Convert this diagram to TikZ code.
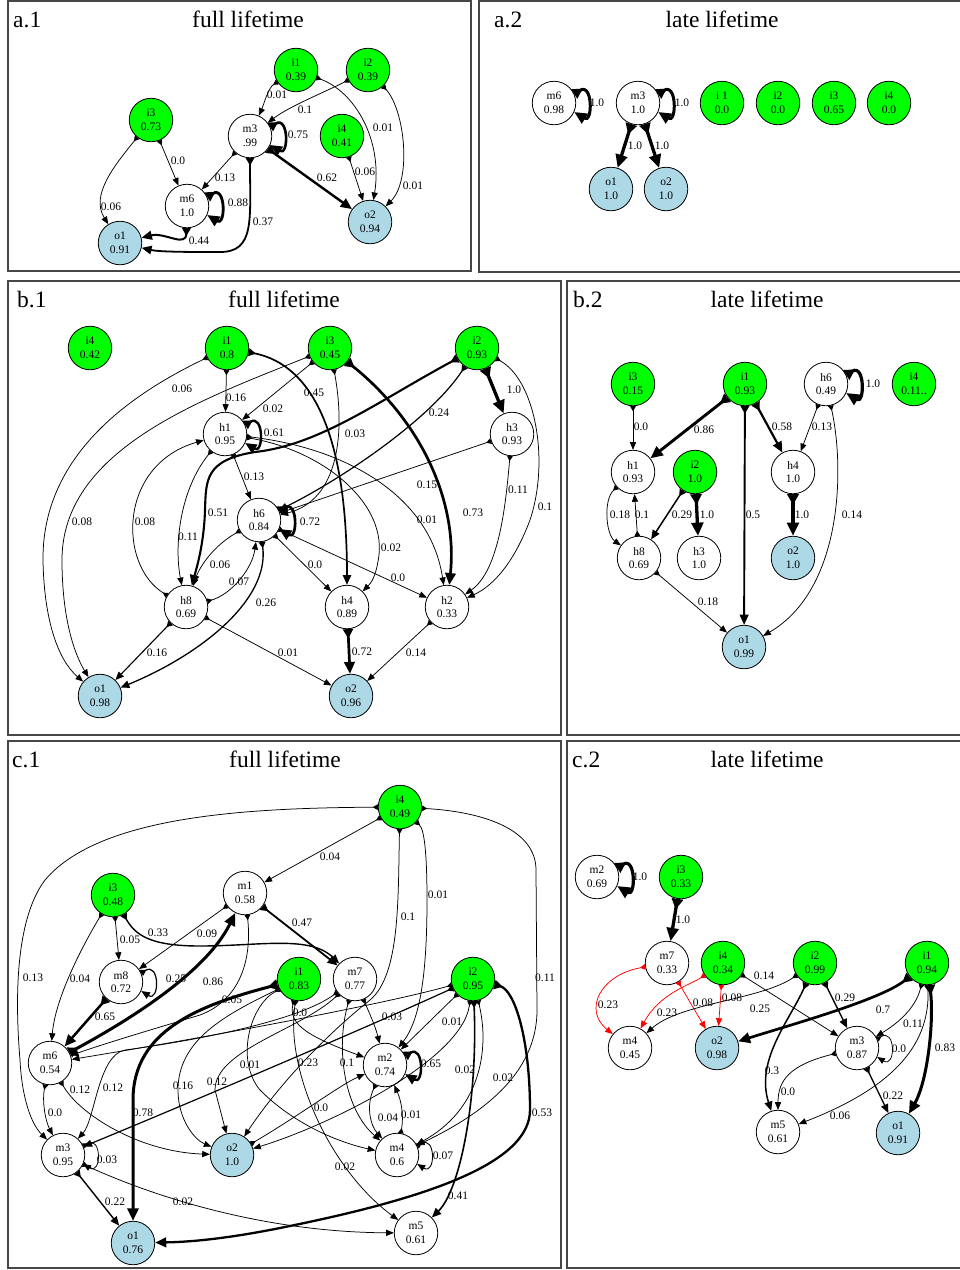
\documentclass[tikz,border=0pt]{standalone}
\usepackage{fontspec}
\setmainfont{Liberation Serif}
\usetikzlibrary{arrows.meta}
\definecolor{ingreen}{RGB}{0,255,0}
\definecolor{outblue}{RGB}{173,216,230}
\definecolor{framegray}{RGB}{70,70,70}
\newcommand\elab[3]{\node[lab] (#1) at (#2) {#3};}
\newcommand\sloop[2]{\draw[e,line width=#2] (#1.24) .. controls +(-32:22) and +(32:22) .. (#1.-24);}
\begin{document}
\begin{tikzpicture}[x=1pt,y=-1pt,
  nd/.style={circle, draw=black, line width=0.8pt, minimum size=43.5pt, inner sep=0pt, align=center, font=\fontsize{11.5}{13.5}\selectfont},
  inp/.style={nd, fill=ingreen},
  outp/.style={nd, fill=outblue},
  hid/.style={nd, fill=white},
  lab/.style={font=\fontsize{11.5}{13.5}\selectfont, inner sep=0pt},
  e/.style={{Triangle[reversed,length=3.5pt 2.2,width=4pt 2.2]}-{Triangle[length=6pt 2.2,width=4.5pt 2.2]}, line width=0.75pt},
  ttl/.style={font=\fontsize{23.5}{28}\selectfont, anchor=base, inner sep=0pt},
  panel/.style={draw=framegray, line width=1.3pt}]
\fill[white] (0,0) rectangle (960,1270);
\useasboundingbox (0,0) rectangle (960,1270);
% panels
\draw[panel] (8,1) rectangle (471,271);
\draw[panel] (479,1) rectangle (966,272);
\draw[panel] (8,281) rectangle (561,735);
\draw[panel] (567,281) rectangle (966,735);
\draw[panel] (8,741) rectangle (561,1268);
\draw[panel] (567,741) rectangle (966,1268);
% titles
\node[ttl, anchor=base west] (a1t) at (13,27) {a.1};
\node[ttl] (a1T) at (248,27) {full lifetime};
\node[ttl, anchor=base west] (a2t) at (494,27) {a.2};
\node[ttl] (a2T) at (722,27) {late lifetime};
\node[ttl, anchor=base west] (b1t) at (17,307) {b.1};
\node[ttl] (b1T) at (284,307) {full lifetime};
\node[ttl, anchor=base west] (b2t) at (573,307) {b.2};
\node[ttl] (b2T) at (767,307) {late lifetime};
\node[ttl, anchor=base west] (c1t) at (12,767) {c.1};
\node[ttl] (c1T) at (285,767) {full lifetime};
\node[ttl, anchor=base west] (c2t) at (572,767) {c.2};
\node[ttl] (c2T) at (767,767) {late lifetime};

% ================= a.1
\node[inp] (a1i1) at (296,70) {i1\\0.39};
\node[inp] (a1i2) at (368,70) {i2\\0.39};
\node[inp] (a1i3) at (151,120) {i3\\0.73};
\node[inp] (a1i4) at (342,136) {i4\\0.41};
\node[hid] (a1m3) at (250,136) {m3\\.99};
\node[hid] (a1m6) at (187,206) {m6\\1.0};
\node[outp] (a1o1) at (120,243) {o1\\0.91};
\node[outp] (a1o2) at (370,222) {o2\\0.94};
\draw[e] (a1i3) -- (a1m6);
\draw[e] (a1i3) .. controls (115,165) and (90,195) .. (a1o1);
\draw[e] (a1i1) .. controls (268,88) and (264,104) .. (a1m3);
\draw[e] (a1i2) .. controls (325,92) and (290,106) .. (a1m3);
\draw[e] (a1i1) .. controls (355,92) and (383,140) .. (a1o2);
\draw[e] (a1i2) .. controls (405,110) and (412,180) .. (a1o2);
\draw[e] (a1i4) -- (a1o2);
\draw[e, line width=2.4pt] (a1m3) -- (a1o2);
\draw[e] (a1m3) -- (a1m6);
\sloop{a1m3}{2.6pt}
\sloop{a1m6}{2.8pt}
\draw[e, line width=2pt] (a1m6) .. controls (186,248) and (165,232) .. (a1o1);
\draw[e, line width=1.8pt] (a1m3) .. controls (250,220) and (255,252) .. (220,252) .. controls (190,252) and (160,252) .. (a1o1);
\elab{a1l1}{277,95}{0.01}
\elab{a1l2}{305,110}{0.1}
\elab{a1l3}{383,128}{0.01}
\elab{a1l4}{298,135}{0.75}
\elab{a1l5}{178,161}{0.0}
\elab{a1l6}{225,178}{0.13}
\elab{a1l7}{327,178}{0.62}
\elab{a1l8}{365,172}{0.06}
\elab{a1l9}{413,186}{0.01}
\elab{a1l10}{111,207}{0.06}
\elab{a1l11}{238,203}{0.88}
\elab{a1l12}{263,222}{0.37}
\elab{a1l13}{199,241}{0.44}

% ================= a.2
\node[hid] (a2m6) at (554,103) {m6\\0.98};
\node[hid] (a2m3) at (638,103) {m3\\1.0};
\node[inp] (a2i1) at (722,103) {i 1\\0.0};
\node[inp] (a2i2) at (778,103) {i2\\0.0};
\node[inp] (a2i3) at (834,103) {i3\\0.65};
\node[inp] (a2i4) at (889,103) {i4\\0.0};
\node[outp] (a2o1) at (611,189) {o1\\1.0};
\node[outp] (a2o2) at (666,189) {o2\\1.0};
\sloop{a2m6}{3pt}
\sloop{a2m3}{3pt}
\draw[e, line width=3.3pt] (a2m3) -- (a2o1);
\draw[e, line width=3.3pt] (a2m3) -- (a2o2);
\elab{a2l1}{597,103}{1.0}
\elab{a2l2}{682,103}{1.0}
\elab{a2l3}{635,146}{1.0}
\elab{a2l4}{662,146}{1.0}

% ================= b.1
\node[inp] (b1i4) at (90,348) {i4\\0.42};
\node[inp] (b1i1) at (227,348) {i1\\0.8};
\node[inp] (b1i3) at (330,348) {i3\\0.45};
\node[inp] (b1i2) at (477,348) {i2\\0.93};
\node[hid] (b1h1) at (225,434) {h1\\0.95};
\node[hid] (b1h3) at (512,434) {h3\\0.93};
\node[hid] (b1h6) at (259,520) {h6\\0.84};
\node[hid] (b1h8) at (186,607) {h8\\0.69};
\node[hid] (b1h4) at (347,607) {h4\\0.89};
\node[hid] (b1h2) at (447,607) {h2\\0.33};
\node[outp] (b1o1) at (100,696) {o1\\0.98};
\node[outp] (b1o2) at (351,696) {o2\\0.96};
\draw[e] (b1i1) -- (b1h1);
\draw[e] (b1i3) -- (b1h1);
\draw[e] (b1i1) .. controls (140,390) and (42,450) .. (43,560) .. controls (44,620) and (58,660) .. (b1o1);
\draw[e] (b1i3) .. controls (200,400) and (62,450) .. (62,560) .. controls (62,620) and (75,655) .. (b1o1);
\draw[e, line width=1.7pt] (b1i1) .. controls (315,365) and (347,440) .. (b1h4);
\draw[e] (b1i3) .. controls (345,430) and (340,500) .. (b1h6);
\draw[e, line width=2.7pt] (b1i3) .. controls (420,420) and (458,500) .. (b1h2);
\draw[e, line width=2.1pt] (b1i2) .. controls (380,400) and (320,445) .. (255,452) .. controls (205,460) and (206,480) .. (205,510) .. controls (204,545) and (196,570) .. (b1h8);
\draw[e, line width=1.2pt] (b1i2) .. controls (430,420) and (340,480) .. (b1h6);
\draw[e, line width=3.3pt] (b1i2) -- (b1h3);
\draw[e] (b1i2) .. controls (535,380) and (550,460) .. (530,520) .. controls (515,560) and (495,585) .. (b1h2);
\draw[e] (b1h3) -- (b1h6);
\draw[e] (b1h3) .. controls (506,500) and (500,570) .. (b1h2);
\sloop{b1h1}{2.4pt}
\draw[e] (b1h1) -- (b1h6);
\draw[e] (b1h1) .. controls (320,450) and (385,500) .. (379,555) .. controls (377,570) and (374,580) .. (b1h4);
\draw[e] (b1h1) .. controls (345,448) and (430,495) .. (b1h2);
\draw[e] (b1h8) .. controls (118,565) and (118,465) .. (b1h1);
\draw[e] (b1h1) .. controls (180,490) and (174,545) .. (b1h8);
\sloop{b1h6}{2.7pt}
\draw[e] (b1h6) .. controls (215,545) and (200,565) .. (b1h8);
\draw[e] (b1h8) .. controls (230,595) and (252,570) .. (b1h6);
\draw[e, line width=1.3pt] (b1h6) .. controls (270,600) and (200,655) .. (b1o1);
\draw[e] (b1h6) -- (b1h4);
\draw[e] (b1h6) -- (b1h2);
\draw[e, line width=1.1pt] (b1h8) -- (b1o1);
\draw[e] (b1h8) -- (b1o2);
\draw[e, line width=2.7pt] (b1h4) -- (b1o2);
\draw[e] (b1h2) -- (b1o2);
\elab{b1l1}{182,389}{0.06}
\elab{b1l2}{236,398}{0.16}
\elab{b1l3}{273,409}{0.02}
\elab{b1l4}{314,393}{0.45}
\elab{b1l5}{355,434}{0.03}
\elab{b1l6}{439,413}{0.24}
\elab{b1l7}{514,390}{1.0}
\elab{b1l8}{274,433}{0.61}
\elab{b1l9}{254,477}{0.13}
\elab{b1l10}{427,485}{0.15}
\elab{b1l11}{518,490}{0.11}
\elab{b1l12}{545,507}{0.1}
\elab{b1l13}{82,522}{0.08}
\elab{b1l14}{145,522}{0.08}
\elab{b1l15}{188,537}{0.11}
\elab{b1l16}{218,513}{0.51}
\elab{b1l17}{310,522}{0.72}
\elab{b1l18}{427,520}{0.01}
\elab{b1l19}{473,513}{0.73}
\elab{b1l20}{391,548}{0.02}
\elab{b1l21}{220,565}{0.06}
\elab{b1l22}{239,582}{0.07}
\elab{b1l23}{266,603}{0.26}
\elab{b1l24}{315,565}{0.0}
\elab{b1l25}{398,578}{0.0}
\elab{b1l26}{157,653}{0.16}
\elab{b1l27}{288,653}{0.01}
\elab{b1l28}{362,652}{0.72}
\elab{b1l29}{416,653}{0.14}

% ================= b.2
\node[inp] (b2i3) at (633,384) {i3\\0.15};
\node[inp] (b2i1) at (745,384) {i1\\0.93};
\node[hid] (b2h6) at (826,384) {h6\\0.49};
\node[inp] (b2i4) at (914,384) {i4\\0.11..};
\node[hid] (b2h1) at (633,472) {h1\\0.93};
\node[inp] (b2i2) at (695,472) {i2\\1.0};
\node[hid] (b2h4) at (793,472) {h4\\1.0};
\node[hid] (b2h8) at (639,558) {h8\\0.69};
\node[hid] (b2h3) at (699,558) {h3\\1.0};
\node[outp] (b2o2) at (793,558) {o2\\1.0};
\node[outp] (b2o1) at (744,647) {o1\\0.99};
\draw[e] (b2i3) -- (b2h1);
\draw[e, line width=2.9pt] (b2i1) -- (b2h1);
\draw[e, line width=2.2pt] (b2i1) -- (b2h4);
\draw[e] (b2h6) -- (b2h4);
\sloop{b2h6}{3.2pt}
\draw[e, line width=1.9pt] (b2i1) -- (b2o1);
\draw[e] (b2h6) .. controls (845,470) and (842,590) .. (b2o1);
\draw[e, line width=3.3pt] (b2h4) -- (b2o2);
\draw[e, line width=3.3pt] (b2i2) -- (b2h3);
\draw[e, line width=1.5pt] (b2i2) -- (b2h8);
\draw[e] (b2h1) .. controls (603,500) and (606,535) .. (b2h8);
\draw[e] (b2h8) -- (b2h1);
\draw[e] (b2h8) -- (b2o1);
\elab{b2l1}{641,427}{0.0}
\elab{b2l2}{704,430}{0.86}
\elab{b2l3}{782,427}{0.58}
\elab{b2l4}{822,427}{0.13}
\elab{b2l5}{873,384}{1.0}
\elab{b2l6}{620,515}{0.18}
\elab{b2l7}{642,515}{0.1}
\elab{b2l8}{682,515}{0.29}
\elab{b2l9}{707,515}{1.0}
\elab{b2l10}{753,515}{0.5}
\elab{b2l11}{802,515}{1.0}
\elab{b2l12}{852,515}{0.14}
\elab{b2l13}{708,602}{0.18}

% ================= c.1
\node[inp] (c1i4) at (400,807) {i4\\0.49};
\node[inp] (c1i3) at (113,895) {i3\\0.48};
\node[hid] (c1m1) at (245,893) {m1\\0.58};
\node[hid] (c1m8) at (121,982) {m8\\0.72};
\node[inp] (c1i1) at (299,979) {i1\\0.83};
\node[hid] (c1m7) at (355,979) {m7\\0.77};
\node[inp] (c1i2) at (473,979) {i2\\0.95};
\node[hid] (c1m6) at (50,1063) {m6\\0.54};
\node[hid] (c1m2) at (385,1065) {m2\\0.74};
\node[hid] (c1m3) at (63,1155) {m3\\0.95};
\node[outp] (c1o2) at (232,1155) {o2\\1.0};
\node[hid] (c1m4) at (397,1155) {m4\\0.6};
\node[outp] (c1o1) at (133,1243) {o1\\0.76};
\node[hid] (c1m5) at (416,1233) {m5\\0.61};
\draw[e] (c1i4) .. controls (250,808) and (100,815) .. (45,880) .. controls (15,920) and (15,1000) .. (20,1060) .. controls (22,1100) and (32,1125) .. (c1m3);
\draw[e] (c1i4) -- (c1m1);
\draw[e] (c1i4) .. controls (398,900) and (400,975) .. (370,1000) .. controls (320,1040) and (275,1090) .. (c1o2);
\draw[e] (c1i4) .. controls (425,830) and (427,860) .. (427,900) .. controls (427,975) and (420,1020) .. (c1m2);
\draw[e] (c1i4) .. controls (485,812) and (536,830) .. (536,870) -- (537,1010) .. controls (537,1075) and (480,1115) .. (c1m4);
\draw[e] (c1i3) -- (c1m8);
\draw[e, line width=1.4pt] (c1i3) .. controls (135,935) and (150,946) .. (200,946) .. controls (260,946) and (310,935) .. (c1m7);
\draw[e] (c1i3) .. controls (80,950) and (55,1000) .. (c1m6);
\draw[e] (c1m1) -- (c1m8);
\draw[e, line width=3pt] (c1m6) .. controls (120,1025) and (205,975) .. (c1m1);
\draw[e, line width=2.5pt] (c1m8) -- (c1m6);
\draw[e] (c1m1) .. controls (252,960) and (240,1000) .. (200,1015) .. controls (150,1030) and (100,1045) .. (c1m6);
\sloop{c1m8}{1.2pt}
\draw[e, line width=1.8pt] (c1m1) -- (c1m7);
\draw[e] (c1i1) .. controls (288,1025) and (310,1037) .. (c1m2);
\draw[e] (c1m7) .. controls (368,1010) and (375,1025) .. (c1m2);
\draw[e] (c1i2) .. controls (400,1000) and (250,1030) .. (c1m6);
\draw[e] (c1m7) .. controls (300,1020) and (200,1040) .. (125,1050) .. controls (98,1055) and (95,1120) .. (c1m3);
\draw[e, line width=1.2pt] (c1i2) .. controls (350,1035) and (160,1115) .. (c1m3);
\draw[e] (c1m6) .. controls (42,1100) and (45,1120) .. (c1m3);
\sloop{c1m3}{0.75pt}
\draw[e, line width=1.4pt] (c1m3) -- (c1o1);
\draw[e] (c1m3) .. controls (150,1195) and (260,1232) .. (c1m5);
\draw[e] (c1i1) .. controls (285,1070) and (330,1170) .. (c1m5);
\draw[e] (c1m6) .. controls (80,1115) and (140,1152) .. (c1o2);
\draw[e, line width=3pt] (c1i1) .. controls (200,1005) and (133,1030) .. (133,1100) -- (c1o1);
\draw[e, line width=2.3pt] (c1i2) .. controls (515,990) and (530,1040) .. (530,1110) .. controls (530,1165) and (420,1200) .. (280,1228) .. controls (220,1240) and (185,1242) .. (c1o1);
\draw[e, line width=1.6pt] (c1i2) .. controls (478,1100) and (460,1190) .. (c1m5);
\draw[e] (c1i2) .. controls (462,1060) and (330,1125) .. (c1o2);
\draw[e] (c1i2) .. controls (490,1050) and (480,1110) .. (c1m4);
\draw[e] (c1o2) .. controls (300,1115) and (340,1085) .. (c1m2);
\draw[e] (c1i1) .. controls (225,1015) and (178,1040) .. (178,1090) .. controls (178,1120) and (195,1140) .. (c1o2);
\draw[e] (c1m7) .. controls (300,1030) and (215,1050) .. (215,1090) -- (c1o2);
\draw[e] (c1i1) .. controls (250,1005) and (235,1060) .. (260,1090) .. controls (300,1130) and (350,1145) .. (c1m4);
\draw[e] (c1m7) .. controls (335,1050) and (345,1110) .. (c1m4);
\sloop{c1m2}{2.4pt}
\draw[e] (c1m2) .. controls (366,1105) and (370,1125) .. (c1m4);
\draw[e] (c1m4) .. controls (404,1115) and (401,1100) .. (c1m2);
\sloop{c1m4}{0.9pt}
\draw[e] (c1i2) -- (c1m2);
\elab{c1l1}{33,978}{0.13}
\elab{c1l2}{80,979}{0.04}
\elab{c1l3}{130,940}{0.05}
\elab{c1l4}{158,933}{0.33}
\elab{c1l5}{207,934}{0.09}
\elab{c1l6}{176,979}{0.25}
\elab{c1l7}{213,982}{0.86}
\elab{c1l8}{232,1000}{0.05}
\elab{c1l9}{330,857}{0.04}
\elab{c1l10}{302,923}{0.47}
\elab{c1l11}{408,917}{0.1}
\elab{c1l12}{438,895}{0.01}
\elab{c1l13}{545,978}{0.11}
\elab{c1l14}{105,1017}{0.65}
\elab{c1l15}{250,1065}{0.01}
\elab{c1l16}{183,1086}{0.16}
\elab{c1l17}{217,1082}{0.12}
\elab{c1l18}{80,1090}{0.12}
\elab{c1l19}{113,1088}{0.12}
\elab{c1l20}{55,1113}{0.0}
\elab{c1l21}{143,1113}{0.78}
\elab{c1l22}{107,1160}{0.03}
\elab{c1l23}{115,1202}{0.22}
\elab{c1l24}{183,1202}{0.02}
\elab{c1l25}{300,1013}{0.0}
\elab{c1l26}{392,1017}{0.03}
\elab{c1l27}{452,1022}{0.01}
\elab{c1l28}{308,1063}{0.23}
\elab{c1l29}{347,1063}{0.1}
\elab{c1l30}{431,1064}{0.65}
\elab{c1l31}{465,1070}{0.02}
\elab{c1l32}{503,1078}{0.02}
\elab{c1l33}{542,1113}{0.53}
\elab{c1l34}{321,1108}{0.0}
\elab{c1l35}{388,1118}{0.04}
\elab{c1l36}{411,1115}{0.01}
\elab{c1l37}{443,1156}{0.07}
\elab{c1l38}{458,1196}{0.41}
\elab{c1l39}{345,1167}{0.02}

% ================= c.2
\node[hid] (c2m2) at (597,877) {m2\\0.69};
\node[inp] (c2i3) at (681,877) {i3\\0.33};
\node[hid] (c2m7) at (667,963) {m7\\0.33};
\node[inp] (c2i4) at (723,963) {i4\\0.34};
\node[inp] (c2i2) at (815,963) {i2\\0.99};
\node[inp] (c2i1) at (927,963) {i1\\0.94};
\node[hid] (c2m4) at (630,1048) {m4\\0.45};
\node[outp] (c2o2) at (717,1048) {o2\\0.98};
\node[hid] (c2m3) at (857,1048) {m3\\0.87};
\node[hid] (c2m5) at (778,1132) {m5\\0.61};
\node[outp] (c2o1) at (898,1133) {o1\\0.91};
\sloop{c2m2}{3.2pt}
\draw[e, line width=3.3pt] (c2i3) -- (c2m7);
\draw[e, red] (c2m7) .. controls (600,975) and (583,1010) .. (c2m4);
\draw[e, red] (c2i4) .. controls (690,985) and (660,993) .. (c2m4);
\draw[e, red] (c2m7) -- (c2o2);
\draw[e, red] (c2i4) -- (c2o2);
\draw[e] (c2i4) -- (c2m3);
\draw[e] (c2i2) .. controls (760,1000) and (680,1003) .. (c2m4);
\draw[e, line width=1.5pt] (c2i2) .. controls (790,1020) and (755,1060) .. (c2m5);
\draw[e, line width=1.4pt] (c2i2) -- (c2m3);
\draw[e, line width=2.7pt] (c2i1) .. controls (880,1000) and (790,1025) .. (c2o2);
\draw[e] (c2i1) .. controls (915,1010) and (895,1025) .. (c2m3);
\draw[e, line width=3pt] (c2i1) .. controls (934,1020) and (928,1080) .. (c2o1);
\draw[e] (c2i1) .. controls (930,1040) and (900,1085) .. (c2m5);
\sloop{c2m3}{0.75pt}
\draw[e] (c2m3) .. controls (790,1065) and (778,1080) .. (c2m5);
\draw[e, line width=1.3pt] (c2m3) -- (c2o1);
\elab{c2l1}{640,877}{1.0}
\elab{c2l2}{683,920}{1.0}
\elab{c2l3}{608,1005}{0.23}
\elab{c2l4}{667,1013}{0.23}
\elab{c2l5}{703,1003}{0.08}
\elab{c2l6}{732,998}{0.08}
\elab{c2l7}{764,976}{0.14}
\elab{c2l8}{760,1009}{0.25}
\elab{c2l9}{845,998}{0.29}
\elab{c2l10}{883,1010}{0.7}
\elab{c2l11}{913,1024}{0.11}
\elab{c2l12}{945,1048}{0.83}
\elab{c2l13}{899,1049}{0.0}
\elab{c2l14}{772,1071}{0.3}
\elab{c2l15}{788,1092}{0.0}
\elab{c2l16}{893,1096}{0.22}
\elab{c2l17}{840,1116}{0.06}
\end{tikzpicture}
\end{document}
